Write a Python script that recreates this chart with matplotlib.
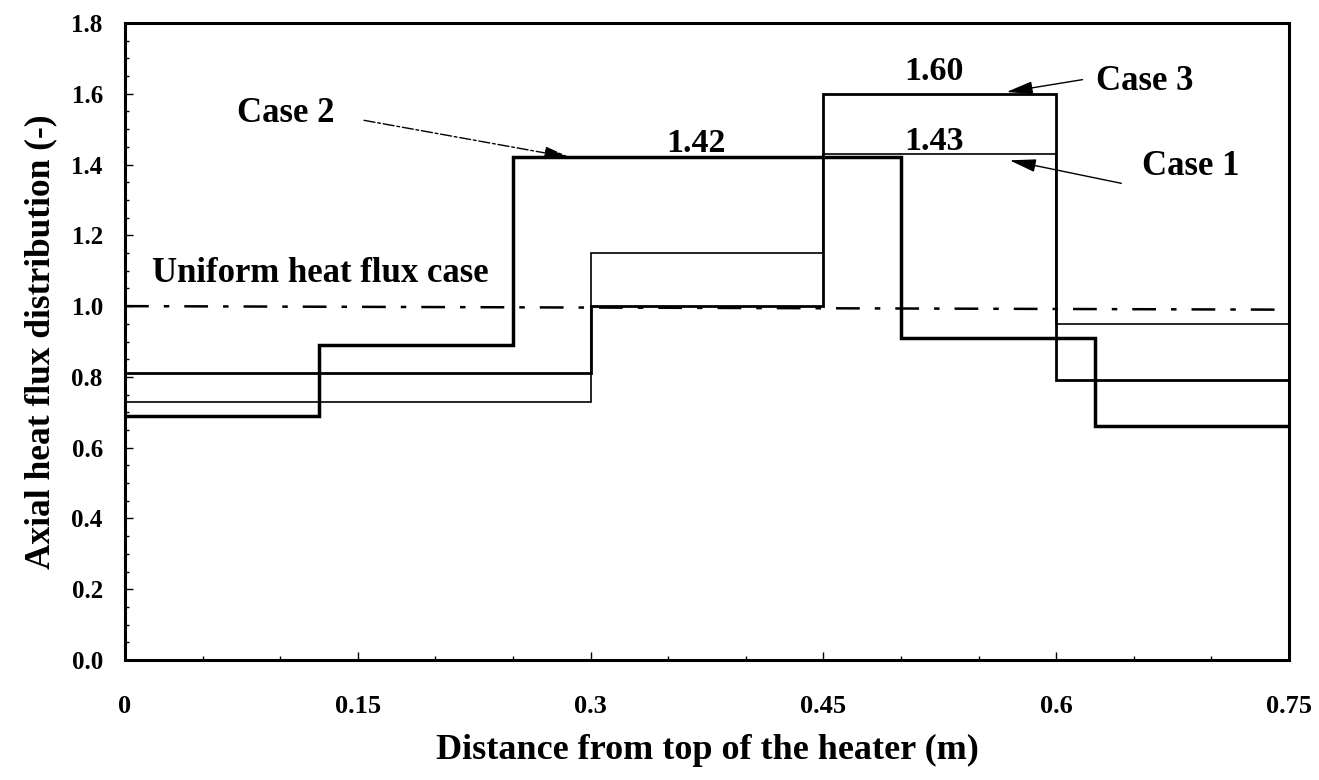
import matplotlib
matplotlib.use("Agg")
import matplotlib.pyplot as plt
from matplotlib.ticker import MultipleLocator, FixedLocator

plt.rcParams['font.family'] = ['Liberation Serif', 'DejaVu Serif']
plt.rcParams['font.weight'] = 'bold'

# Data
case1_edges = [0.0, 0.3, 0.45, 0.6, 0.75]
case1_vals = [0.73, 1.15, 1.43, 0.95]
case2_edges = [0.0, 0.125, 0.25, 0.5, 0.625, 0.75]
case2_vals = [0.69, 0.89, 1.42, 0.91, 0.66]
case3_edges = [0.0, 0.3, 0.45, 0.6, 0.75]
case3_vals = [0.81, 1.0, 1.60, 0.79]
uniform_x = [0.0, 0.75]
uniform_y = [1.0, 0.99]

x_ticks = [0, 0.15, 0.3, 0.45, 0.6, 0.75]
x_tick_labels = ['0', '0.15', '0.3', '0.45', '0.6', '0.75']
y_ticks = [0.0, 0.2, 0.4, 0.6, 0.8, 1.0, 1.2, 1.4, 1.6, 1.8]
y_tick_labels = ['0.0', '0.2', '0.4', '0.6', '0.8', '1.0', '1.2', '1.4', '1.6', '1.8']

fig = plt.figure(figsize=(13.19, 7.8), dpi=100)
ax = fig.add_axes([0.0948, 0.1538, 0.9772 - 0.0948, 0.9705 - 0.1538])

def stairs(ax, edges, vals, lw):
    ax.step(edges, list(vals) + [vals[-1]], where='post', color='black', lw=lw,
            solid_joinstyle='miter')

ax.plot(uniform_x, uniform_y, color='black', lw=1.8, dashes=[9.5, 6, 2.2, 6])
stairs(ax, case1_edges, case1_vals, 1.2)
stairs(ax, case3_edges, case3_vals, 2.0)
stairs(ax, case2_edges, case2_vals, 2.5)

ax.set_xlim(0, 0.75)
ax.set_ylim(0, 1.8)
ax.xaxis.set_major_locator(FixedLocator(x_ticks))
ax.set_xticklabels(x_tick_labels)
ax.xaxis.set_minor_locator(MultipleLocator(0.05))
ax.yaxis.set_major_locator(FixedLocator(y_ticks))
ax.set_yticklabels(y_tick_labels)
ax.yaxis.set_minor_locator(MultipleLocator(0.05))
ax.tick_params(which='both', direction='in', width=1.0)
ax.tick_params(which='major', length=6)
ax.tick_params(which='minor', length=3)
ax.tick_params(axis='x', which='major', pad=25, labelsize=19)
ax.tick_params(axis='y', which='major', pad=16, labelsize=18)
for lab in ax.get_xticklabels() + ax.get_yticklabels():
    lab.set_fontweight('bold')
for s in ax.spines.values():
    s.set_linewidth(2.2)

ax.set_xlabel('Distance from top of the heater (m)', fontsize=26, fontweight='bold', labelpad=12)
ax.set_ylabel('Axial heat flux distribution (-)', fontsize=25.5, fontweight='bold', labelpad=10)

ax.text(0.0174, 1.068, 'Uniform heat flux case', fontsize=25, fontweight='bold',
        ha='left', va='baseline')
ax.text(0.368, 1.435, '1.42', fontsize=24.5, fontweight='bold', ha='center', va='baseline')
ax.text(0.521, 1.638, '1.60', fontsize=24.5, fontweight='bold', ha='center', va='baseline')
ax.text(0.521, 1.441, '1.43', fontsize=24.5, fontweight='bold', ha='center', va='baseline')

ax.text(0.1035, 1.52, 'Case 2', fontsize=25, fontweight='bold', ha='center', va='baseline')
ax.text(0.657, 1.61, 'Case 3', fontsize=25, fontweight='bold', ha='center', va='baseline')
ax.text(0.687, 1.37, 'Case 1', fontsize=25, fontweight='bold', ha='center', va='baseline')

head = '-|>,head_length=0.9,head_width=0.22'
ax.annotate('', xy=(0.287, 1.42), xytext=(0.154, 1.525),
            arrowprops=dict(arrowstyle=head, color='black', lw=1.0, mutation_scale=18,
                            shrinkA=0, shrinkB=0, linestyle=(0, (8, 2, 2, 2))))
ax.annotate('', xy=(0.568, 1.605), xytext=(0.617, 1.64),
            arrowprops=dict(arrowstyle=head, color='black', lw=1.0, mutation_scale=18,
                            shrinkA=0, shrinkB=0))
ax.annotate('', xy=(0.570, 1.412), xytext=(0.642, 1.347),
            arrowprops=dict(arrowstyle=head, color='black', lw=1.0, mutation_scale=18,
                            shrinkA=0, shrinkB=0))

fig.savefig('out.png', dpi=100)
